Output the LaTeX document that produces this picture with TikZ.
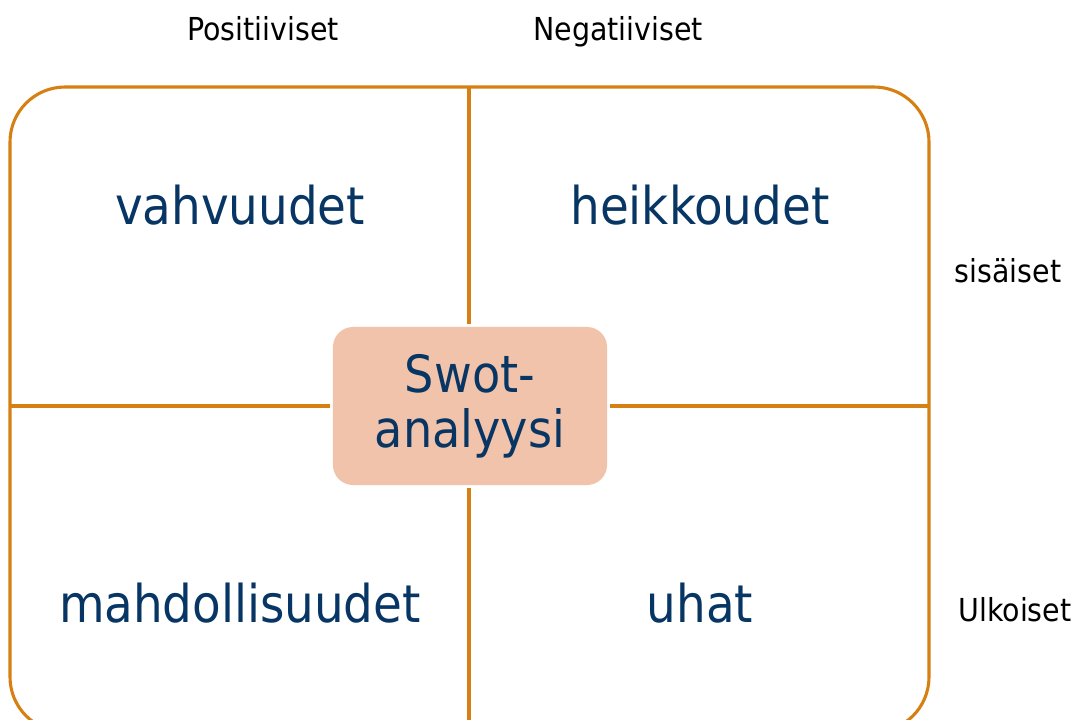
\documentclass[tikz,border=0pt]{standalone}
\usepackage{fontspec}
\setmainfont{DejaVu Sans Condensed}
\usetikzlibrary{positioning}
\definecolor{swotline}{RGB}{214,127,18}
\definecolor{swotfill}{RGB}{241,195,170}
\definecolor{swotblue}{RGB}{8,54,100}

\begin{document}
\begin{tikzpicture}[x=0.025cm, y=-0.025cm,
            quad/.style={text=swotblue, inner sep=0pt, anchor=base,
                         font=\fontsize{37}{40}\selectfont},
            side/.style={inner sep=0pt, anchor=base,
                         font=\fontsize{22.5}{26}\selectfont},
            divider/.style={draw=swotline, line width=2.2pt},
            hub/.style={fill=swotfill, text=swotblue, rounded corners=0.5cm,
                        minimum width=6.85cm, minimum height=3.95cm,
                        align=center, font=\fontsize{36.5}{39}\selectfont}]
        \useasboundingbox (0,0) rectangle (1076,719);
        \clip (0,0) rectangle (1076,719);
        % frame
        \draw[divider, rounded corners=1.375cm] (10,87) rectangle (929,732);
        \coordinate (top) at (469,87);
        \coordinate (bottom) at (469,732);
        \coordinate (left) at (10,406);
        \coordinate (right) at (929,406);
        \node[hub] (swot) at (470,406) {Swot-\\analyysi};
        \draw[divider, shorten >=2pt] (top) -- (swot.north -| top);
        \draw[divider, shorten <=2pt] (swot.south -| bottom) -- (bottom);
        \draw[divider, shorten >=2pt] (left) -- (swot.west);
        \draw[divider, shorten <=2pt] (swot.east) -- (right);
        % quadrants
        \node[quad] (strength) at (240,224) {vahvuudet};
        \node[quad] (weakness) at (700,224) {heikkoudet};
        \node[quad] (chance) at (240,622) {mahdollisuudet};
        \node[quad] (threat) at (700,622) {uhat};
        % axes
        \node[side] (pos) at (263,40) {Positiiviset};
        \node[side] (neg) at (618,40) {Negatiiviset};
        \node[side] (inner) at (1008,282) {sisäiset};
        \node[side] (outer) at (1015,621) {Ulkoiset};
\end{tikzpicture}
\end{document}
